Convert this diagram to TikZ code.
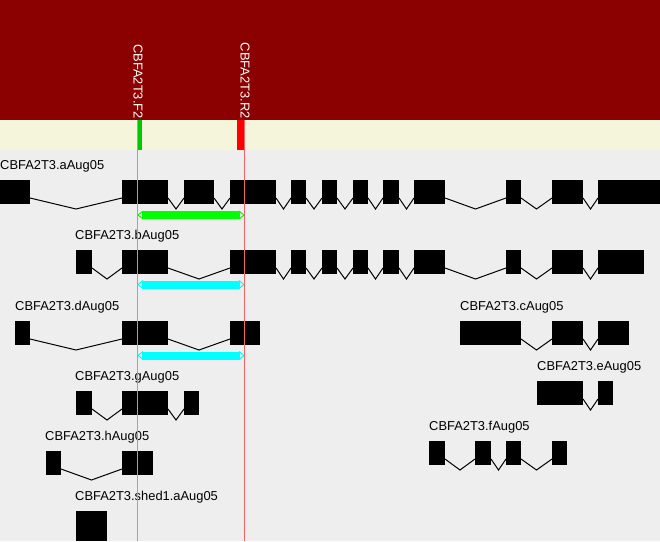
\documentclass[tikz,border=0pt]{standalone}
\usepackage{fontspec}
\setmainfont{Liberation Sans}
\usepackage{tikz}
\usetikzlibrary{calc}

\definecolor{bandred}{RGB}{139,0,0}
\definecolor{bandcream}{RGB}{245,245,220}
\definecolor{panelgrey}{RGB}{238,238,238}
\definecolor{fwdgreen}{RGB}{0,200,0}
\definecolor{fwdline}{RGB}{110,200,110}
\definecolor{revline}{RGB}{245,100,100}
\definecolor{ampgreen}{RGB}{0,255,0}
\definecolor{ampcyan}{RGB}{0,255,255}
\definecolor{revred}{RGB}{255,0,0}

\tikzset{
  exon/.style={fill=black, inner sep=0pt, outer sep=0pt, minimum height=24pt, anchor=north west},
  intron/.style={line width=1pt, black},
  genelabel/.style={inner sep=0pt, anchor=base west, font=\fontsize{12.9}{15}\selectfont},
  primerlab/.style={white, inner sep=0pt, rotate=-90, anchor=east, font=\fontsize{12.9}{15}\selectfont}
}

% name, top, list of exon x/width
\newcommand{\gene}[3]{%
  \foreach \x/\w [count=\i] in {#3} {
    \node[exon, minimum width=\w] (#1-\i) at (\x,#2) {};
    \ifnum\i>1 \pgfmathtruncatemacro\j{\i-1}
      \draw[intron] ([yshift=6pt]#1-\j.south east)
        -- ([yshift=-5pt]$(#1-\j.south east)!.5!(#1-\i.south west)$)
        -- ([yshift=6pt]#1-\i.south west);
    \fi
  }
}
% centre y, colour
\newcommand{\amplicon}[2]{%
  \fill[#2] (142,#1-4) rectangle (240,#1+4);
  \draw[#2, line width=1pt] (143,#1-4) -- (138,#1) -- (143,#1+4)
    (239,#1-4) -- (244,#1) -- (239,#1+4);
}

\begin{document}
\begin{tikzpicture}[x=1pt, y=-1pt]
\fill[panelgrey] (0,0) rectangle (660,541);
\fill[bandred] (0,0) rectangle (660,120);
\fill[bandcream] (0,120) rectangle (660,150);
\coordinate (F2) at (137.5,120); \coordinate (R2) at (244.5,120);
\fill[fwdgreen] (137,120) rectangle (142,150);
\fill[revred] (237,120) rectangle (245,150);
\node[primerlab] (F2-lab) at (138,119) {CBFA2T3.F2};
\node[primerlab] (R2-lab) at (245,119) {CBFA2T3.R2};

\node[genelabel] (a-lab) at (0,169.5) {CBFA2T3.aAug05};
\gene{a}{180}{0/30,122/46,184/30,230/46,291/15,322/15,353/15,383/16,414/31,506/15,552/31,598/62}
\node[genelabel] (b-lab) at (75,239.5) {CBFA2T3.bAug05};
\gene{b}{250}{76/16,122/46,230/46,291/15,322/15,353/15,383/16,414/31,506/15,552/31,598/46}
\node[genelabel] (d-lab) at (15,310.5) {CBFA2T3.dAug05};
\gene{d}{321}{15/15,122/46,230/30}
\node[genelabel] (g-lab) at (75,380.5) {CBFA2T3.gAug05};
\gene{g}{391}{76/16,122/46,184/15}
\node[genelabel] (h-lab) at (45,440.5) {CBFA2T3.hAug05};
\gene{h}{451}{46/15,122/31}
\node[genelabel] (s-lab) at (75,500.5) {CBFA2T3.shed1.aAug05};
\node[exon, minimum width=31, minimum height=30] (s-1) at (76,511) {};
\node[genelabel] (c-lab) at (460,310.5) {CBFA2T3.cAug05};
\gene{c}{321}{460/61,552/31,598/31}
\node[genelabel] (e-lab) at (537,370.5) {CBFA2T3.eAug05};
\gene{e}{381}{537/46,598/15}
\node[genelabel] (f-lab) at (429,430.5) {CBFA2T3.fAug05};
\gene{f}{441}{429/16,475/16,506/15,552/15}

\amplicon{215}{ampgreen}
\amplicon{284.5}{ampcyan}
\amplicon{355.5}{ampcyan}

\draw[fwdline] (F2) -- (137.5,541);
\draw[revline] (R2) -- (244.5,541);
\end{tikzpicture}
\end{document}
